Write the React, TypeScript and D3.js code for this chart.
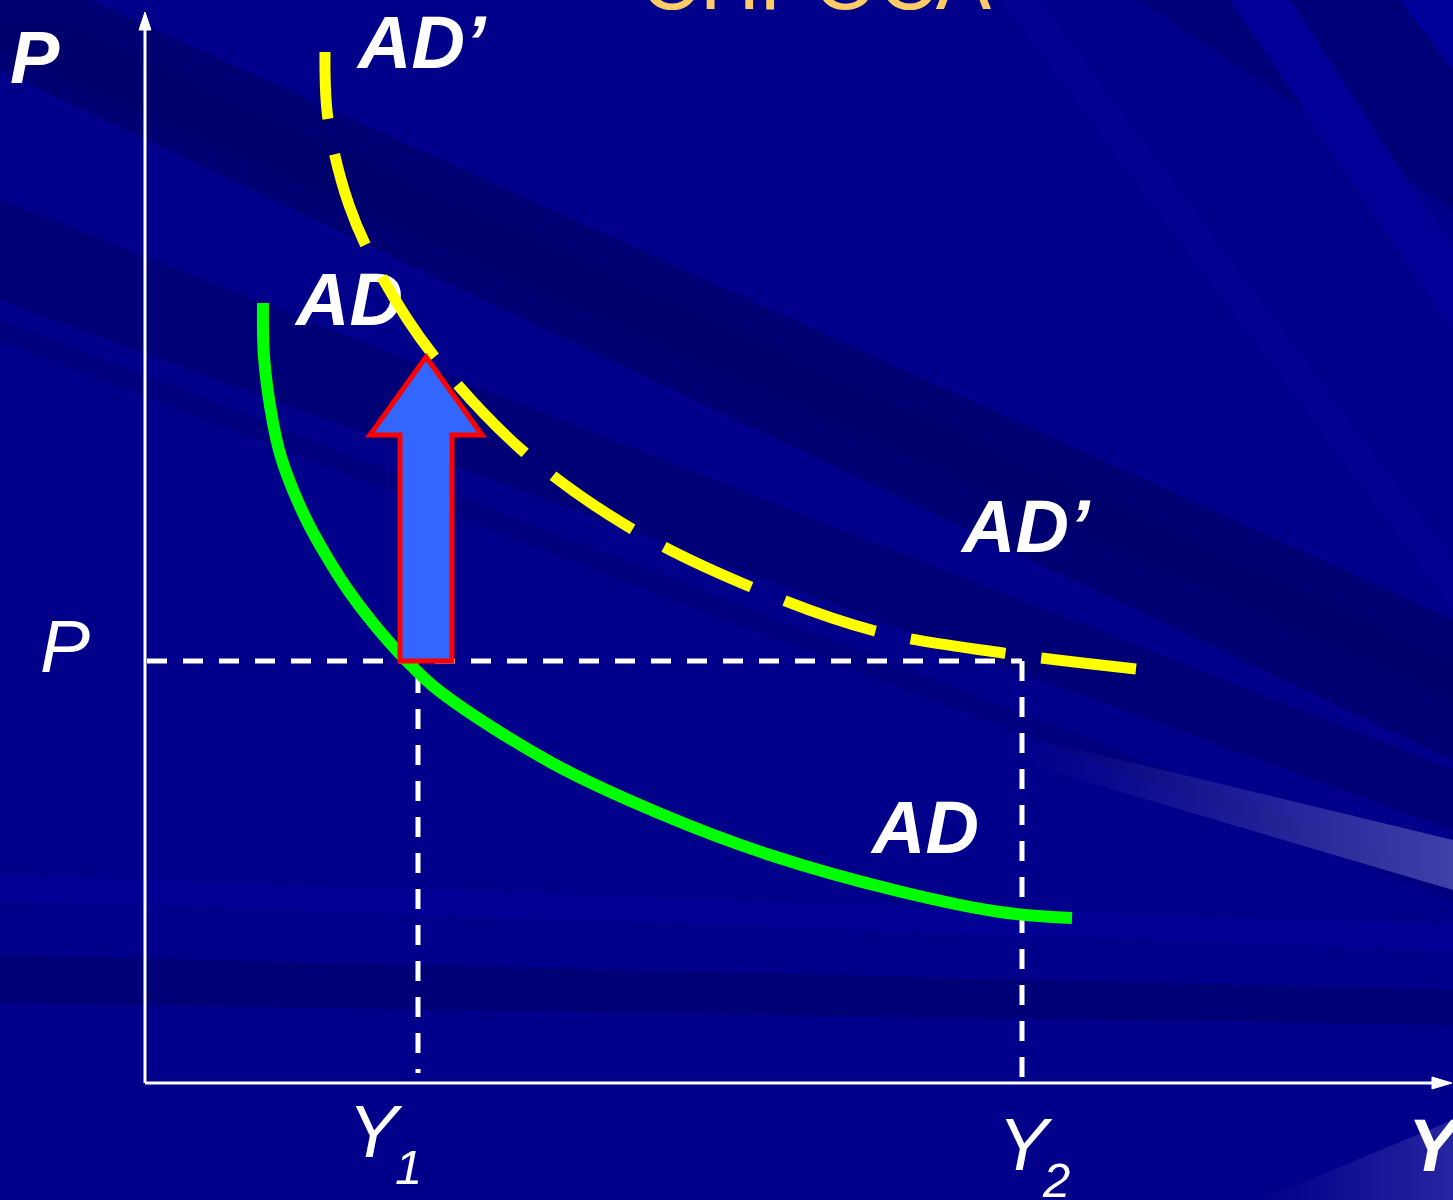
import React from "react";
import * as d3 from "d3";

const width = 1453;
const height = 1200;

// AD curve (green), output Y against price P
const adY = [11.8, 11.9, 12.8, 13.6, 14.8, 16.3, 18.2, 20.3, 22.8, 25.8, 29.3, 40.7, 51.6, 62.5, 75.3, 85.5, 92.7];
const adP = [78.0, 72.6, 66.0, 62.6, 59.3, 56.0, 52.6, 49.3, 46.0, 42.6, 39.3, 32.0, 26.9, 22.8, 19.2, 17.1, 16.5];

// AD' curve (yellow, dashed), shifted up
const adShiftY = [18.0, 18.3, 20.4, 23.7, 28.8, 37.9, 48.7, 60.6, 73.0, 85.8, 99.1];
const adShiftP = [103.1, 96.4, 87.8, 80.6, 72.8, 63.1, 55.4, 49.6, 45.2, 43.0, 41.4];

// price level and the two outputs
const priceLevel = 42.2;
const outputLevels = [27.3, 87.7];

// shift arrow: from P up to AD'
const arrowAt = 28.1;
const arrowFrom = 42.2;
const arrowTo = 72.6;

const font = "'Liberation Sans', Arial, sans-serif";

export default function App() {
  const x = d3.scaleLinear().domain([0, 130.5]).range([145, 1450]);
  const y = d3.scaleLinear().domain([0, 107.1]).range([1083, 12]);

  const line = d3
    .line<[number, number]>()
    .x((d) => x(d[0]))
    .y((d) => y(d[1]))
    .curve(d3.curveCatmullRom.alpha(0.5));

  const ad = line(adY.map((v, i) => [v, adP[i]]));
  const adShift = line(adShiftY.map((v, i) => [v, adShiftP[i]]));

  // block arrow
  const cx = x(arrowAt);
  const shaft = x(arrowAt + 2.6) - cx;
  const head = x(arrowAt + 5.6) - cx;
  const tip = y(arrowTo);
  const base = y(arrowTo - 7.8);
  const bottom = y(arrowFrom);
  const arrow = [
    [cx, tip],
    [cx + head, base],
    [cx + shaft, base],
    [cx + shaft, bottom],
    [cx - shaft, bottom],
    [cx - shaft, base],
    [cx - head, base],
  ];

  const x0 = x(0);
  const y0 = y(0);
  const yP = y(priceLevel);

  return (
    <svg
      width={width}
      height={height}
      style={{ position: "absolute", left: 0, top: 0, display: "block" }}
      fontFamily={font}
    >
      <defs>
        <linearGradient id="glow" x1="0" x2="1" y1="0" y2="0">
          <stop offset="0" stopColor="#3a3aa8" stopOpacity="0" />
          <stop offset="1" stopColor="#4848ac" stopOpacity="0.9" />
        </linearGradient>
        <linearGradient id="corner" x1="0" x2="1" y1="0" y2="0">
          <stop offset="0" stopColor="#2a2aa0" stopOpacity="0" />
          <stop offset="1" stopColor="#3030a8" stopOpacity="0.8" />
        </linearGradient>
      </defs>

      {/* background streaks */}
      <rect width={width} height={height} fill="#00008a" />
      <g>
        <polygon points="0,0 90,0 1453,620 1453,760 0,70" fill="#000072" />
        <polygon points="0,20 60,20 1453,660 1453,700 0,50" fill="#00006a" opacity="0.7" />
        <polygon points="0,200 0,300 1453,830 1453,770" fill="#000076" />
        <polygon points="0,320 0,340 1453,900 1453,880" fill="#00007e" />
        <polygon points="1140,0 1453,0 1453,210" fill="#000078" />
        <polygon points="1230,0 1290,0 1453,250 1453,330" fill="#000098" />
        <polygon points="1000,0 1040,0 1453,560 1453,610" fill="#000096" opacity="0.6" />
        <polygon points="1400,0 1453,0 1453,70" fill="#00009a" />
        <polygon points="0,875 0,900 1453,950 1453,925" fill="#000094" />
        <polygon points="0,955 0,1003 1453,1025 1453,990" fill="#000076" />
        <polygon points="1030,738 1453,840 1453,890 1030,765" fill="url(#glow)" />
        <polygon points="1260,1200 1453,1120 1453,1200" fill="url(#corner)" />
      </g>

      {/* title, cut by the frame */}
      <text x={640} y={9} fontSize={83} fill="#ffcc66">
        СПРОСА
      </text>

      {/* guide lines */}
      <g stroke="#ffffff" strokeWidth={5} fill="none" strokeDasharray="20 16">
        <line x1={x0 + 2} y1={yP} x2={x(outputLevels[1])} y2={yP} />
        <line x1={x(outputLevels[0])} y1={yP + 12} x2={x(outputLevels[0])} y2={y0 - 10} />
        <line x1={x(outputLevels[1])} y1={yP} x2={x(outputLevels[1])} y2={y0} />
      </g>

      {/* axes */}
      <g stroke="#ffffff" strokeWidth={3} fill="#ffffff">
        <line x1={x0} y1={y0} x2={x0} y2={28} />
        <line x1={x0} y1={y0} x2={1434} y2={y0} />
        <path d={`M${x0},12 L${x0 + 6},30 L${x0 - 6},30 Z`} strokeWidth={1} />
        <path d={`M1452,${y0} L1432,${y0 - 6} L1432,${y0 + 6} Z`} strokeWidth={1} />
      </g>

      {/* AD */}
      <path d={ad ?? ""} fill="none" stroke="#00ff00" strokeWidth={12} />

      {/* labels under the dashed curve */}
      <g fill="#ffffff" fontWeight="bold" fontStyle="italic" fontSize={74}>
        <text x={10} y={83}>P</text>
        <text x={358} y={68}>AD’</text>
        <text x={296} y={325}>AD</text>
        <text x={962} y={552}>AD’</text>
        <text x={872} y={853}>AD</text>
        <text x={1408} y={1171}>Y</text>
      </g>

      {/* AD' */}
      <path
        d={adShift ?? ""}
        fill="none"
        stroke="#ffff00"
        strokeWidth={11}
        strokeDasharray="96 36"
        strokeDashoffset={29}
      />

      {/* shift arrow */}
      <polygon
        points={arrow.map((p) => p.join(",")).join(" ")}
        fill="#3366ff"
        stroke="#ff0000"
        strokeWidth={5}
        strokeLinejoin="miter"
      />

      {/* level labels */}
      <g fill="#ffffff" fontStyle="italic">
        <text x={40} y={672} fontSize={75}>P</text>
        <text x={348} y={1157} fontSize={75}>Y</text>
        <text x={395} y={1184} fontSize={49}>1</text>
        <text x={998} y={1170} fontSize={75}>Y</text>
        <text x={1043} y={1197} fontSize={49}>2</text>
      </g>
    </svg>
  );
}
